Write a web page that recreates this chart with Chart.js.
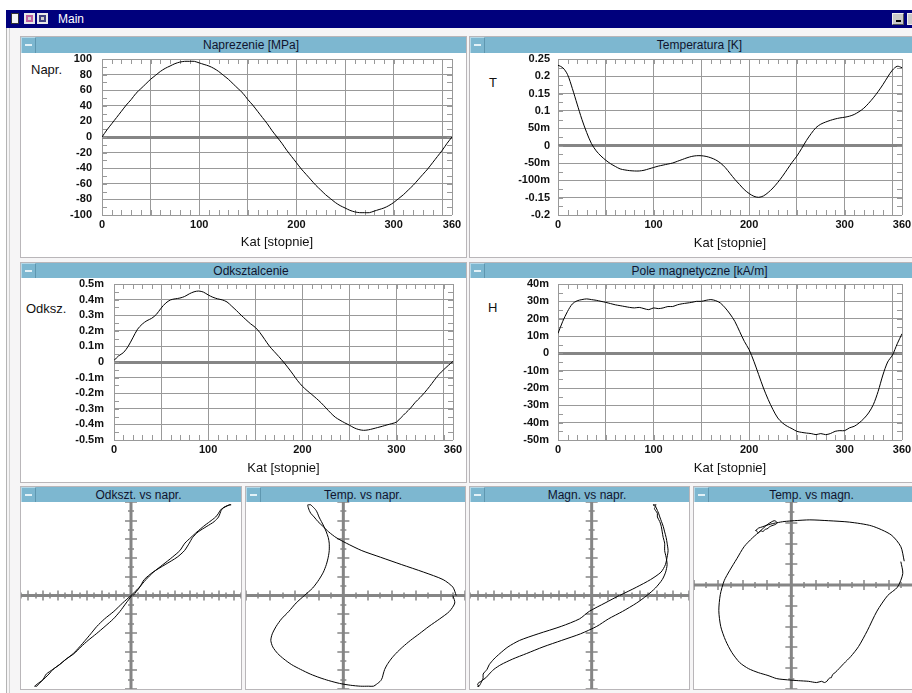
<!DOCTYPE html>
<html lang="pl">
<head>
<meta charset="utf-8">
<title>Main</title>
<script src="https://cdn.jsdelivr.net/npm/chart.js@4.4.1/dist/chart.umd.min.js"></script>
<style>
  html, body { margin: 0; padding: 0; }
  body { width: 912px; height: 693px; overflow: hidden; position: relative; background: #ffffff;
         font-family: "Liberation Sans", Arial, sans-serif; }
  .abs { position: absolute; }
  #frame { left: 6px; top: 10px; width: 920px; height: 700px; background: #f6f5f6;
           border-left: 1px solid #b4b4b4; box-sizing: border-box; }
  #frame2 { left: 9px; top: 28px; width: 1px; height: 680px; background: #cfcfcf; }
  #titlebar { left: 6px; top: 10px; width: 920px; height: 18px; background: #00007c; }
  #titlebar .name { position: absolute; left: 52px; top: 2px; color: #fff; font-size: 12px; line-height: 14px; }
  .ico { position: absolute; top: 3px; width: 11px; height: 11px; box-sizing: border-box; }
  .panel { position: absolute; background: #fff; border: 1px solid #b9b6b9; box-sizing: border-box; }
  .hdr { position: absolute; background: #7db7d0; color: #10142e; font-size: 12px; box-sizing: border-box; }
  .hdr .btn { position: absolute; left: 0; top: 0; bottom: 0; width: 15px; border-left: 1px solid #b4d8e8;
              border-top: 1px solid #b4d8e8; border-right: 1px solid #5f97b0; box-sizing: border-box; }
  .hdr .btn::after { content: ""; position: absolute; left: 3px; top: 6px; width: 7px; height: 2px; background: #e2f1f7; }
  .hdr .txt { position: absolute; left: 15px; right: 0; top: 0; bottom: 0; display: flex;
              align-items: center; justify-content: center; white-space: nowrap; }
  .ylab { position: absolute; font-size: 13px; color: #111; line-height: 15px; }
  canvas { position: absolute; }
</style>
</head>
<body>
<div id="frame" class="abs"></div>
<div id="frame2" class="abs"></div>
<div id="titlebar" class="abs">
  <div class="ico" style="left:5px;width:8px;background:#f4f4f4;border:1px solid #333;"></div>
  <div class="ico" style="left:18px;background:#d0d0d0;border:2px solid #e8e8e8;box-shadow:inset 0 0 0 2px #c060a0;"></div>
  <div class="ico" style="left:31px;background:#d0d0d0;border:2px solid #e8e8e8;box-shadow:inset 0 0 0 2px #404080;"></div>
  <div class="name">Main</div>
  <div class="ico" style="left:886px;width:12px;height:12px;top:3px;background:#c8c8c8;border:1px solid #eee;border-right-color:#555;border-bottom-color:#555;">
    <div style="position:absolute;left:3px;top:6px;width:5px;height:2px;background:#000;"></div></div>
  <div class="ico" style="left:901px;width:12px;height:12px;top:3px;background:#c8c8c8;border:1px solid #eee;"></div>
</div>

<!-- panel frames -->
<div class="panel" style="left:20px;top:36px;width:447px;height:222px;"></div>
<div class="panel" style="left:469px;top:36px;width:446px;height:222px;"></div>
<div class="panel" style="left:20px;top:262px;width:447px;height:221px;"></div>
<div class="panel" style="left:469px;top:262px;width:446px;height:221px;"></div>
<div class="panel" style="left:20px;top:486px;width:222px;height:204px;"></div>
<div class="panel" style="left:245px;top:486px;width:221px;height:204px;"></div>
<div class="panel" style="left:469px;top:486px;width:221px;height:204px;"></div>
<div class="panel" style="left:693px;top:486px;width:222px;height:204px;"></div>

<!-- panel headers -->
<div class="hdr" style="left:21px;top:37px;width:445px;height:16px;"><div class="btn"></div><div class="txt">Naprezenie [MPa]</div></div>
<div class="hdr" style="left:470px;top:37px;width:444px;height:16px;"><div class="btn"></div><div class="txt">Temperatura [K]</div></div>
<div class="hdr" style="left:21px;top:263px;width:445px;height:15px;"><div class="btn"></div><div class="txt">Odksztalcenie</div></div>
<div class="hdr" style="left:470px;top:263px;width:444px;height:15px;"><div class="btn"></div><div class="txt">Pole magnetyczne [kA/m]</div></div>
<div class="hdr" style="left:21px;top:487px;width:220px;height:15px;"><div class="btn"></div><div class="txt">Odkszt. vs napr.</div></div>
<div class="hdr" style="left:246px;top:487px;width:219px;height:15px;"><div class="btn"></div><div class="txt">Temp. vs napr.</div></div>
<div class="hdr" style="left:470px;top:487px;width:219px;height:15px;"><div class="btn"></div><div class="txt">Magn. vs napr.</div></div>
<div class="hdr" style="left:694px;top:487px;width:220px;height:15px;"><div class="btn"></div><div class="txt">Temp. vs magn.</div></div>

<!-- quantity labels beside the value axes -->
<div class="ylab" style="left:31px;top:62px;">Napr.</div>
<div class="ylab" style="left:489px;top:75px;">T</div>
<div class="ylab" style="left:26px;top:301px;">Odksz.</div>
<div class="ylab" style="left:488px;top:300px;">H</div>

<canvas id="cStress" width="445" height="203" style="left:21px;top:53px;"></canvas>
<canvas id="cTemp" width="442" height="203" style="left:470px;top:53px;"></canvas>
<canvas id="cStrain" width="445" height="203" style="left:21px;top:278px;"></canvas>
<canvas id="cField" width="442" height="203" style="left:470px;top:278px;"></canvas>
<canvas id="cStrainStress" width="220" height="187" style="left:21px;top:502px;"></canvas>
<canvas id="cTempStress" width="219" height="187" style="left:246px;top:502px;"></canvas>
<canvas id="cFieldStress" width="219" height="187" style="left:470px;top:502px;"></canvas>
<canvas id="cTempField" width="219" height="187" style="left:694px;top:502px;"></canvas>

<script>
// Rotation angle of the cycle [deg]
const angles = [0, 5, 10, 15, 20, 25, 30, 35, 40, 45, 50, 55, 60, 65, 70, 75, 80, 85, 90, 95,
  100, 105, 110, 115, 120, 125, 130, 135, 140, 145, 150, 155, 160, 165, 170, 175, 180, 185, 190, 195,
  200, 205, 210, 215, 220, 225, 230, 235, 240, 245, 250, 255, 260, 265, 270, 275, 280, 285, 290, 295,
  300, 305, 310, 315, 320, 325, 330, 335, 340, 345, 350, 355, 360];

// Stress [MPa]
const stress = [0, 9, 17, 25, 33, 41, 48, 56, 62, 68, 74, 79, 84, 88, 91, 94, 96, 97, 97, 97,
  95, 93, 91, 88, 84, 79, 74, 68, 62, 56, 48, 41, 33, 25, 17, 8, 0, -8, -17, -25,
  -33, -41, -48, -55, -62, -68, -74, -79, -84, -88, -91, -94, -96, -97, -97, -97, -95, -93, -91, -88,
  -84, -79, -74, -68, -62, -55, -48, -41, -33, -25, -17, -8, 0];

// Temperature change [K]
const temperature = [0.232, 0.225, 0.205, 0.165, 0.12, 0.076, 0.038, 0.006, -0.015, -0.03,
  -0.042, -0.052, -0.06, -0.067, -0.07, -0.072, -0.073, -0.073, -0.071, -0.067,
  -0.063, -0.059, -0.056, -0.053, -0.05, -0.045, -0.04, -0.035, -0.031, -0.029,
  -0.029, -0.031, -0.035, -0.041, -0.05, -0.063, -0.08, -0.097, -0.112, -0.127,
  -0.138, -0.146, -0.149, -0.145, -0.135, -0.122, -0.106, -0.088, -0.068, -0.048,
  -0.03, -0.008, 0.015, 0.035, 0.052, 0.062, 0.068, 0.073, 0.077, 0.08,
  0.082, 0.085, 0.09, 0.098, 0.108, 0.122, 0.138, 0.156, 0.176, 0.198,
  0.218, 0.229, 0.225];

// Strain [milli]
const strainMilli = [0.01, 0.04, 0.06, 0.1, 0.155, 0.21, 0.243, 0.265, 0.28, 0.305,
  0.345, 0.378, 0.398, 0.405, 0.41, 0.42, 0.437, 0.45, 0.455, 0.448,
  0.43, 0.415, 0.405, 0.398, 0.385, 0.358, 0.33, 0.3, 0.272, 0.245,
  0.222, 0.188, 0.145, 0.102, 0.068, 0.035, 0.0, -0.038, -0.078, -0.12,
  -0.155, -0.183, -0.208, -0.234, -0.262, -0.294, -0.326, -0.354, -0.373, -0.39,
  -0.405, -0.422, -0.433, -0.438, -0.435, -0.428, -0.42, -0.412, -0.403, -0.395,
  -0.385, -0.355, -0.325, -0.295, -0.258, -0.228, -0.195, -0.158, -0.118, -0.08,
  -0.05, -0.022, 0.004];

// Magnetic field [milli kA/m]
const fieldMilli = [11.5, 18.5, 24.2, 28.5, 30.3, 31, 31.4, 31, 30.6, 30,
  29.4, 28.7, 28, 27.5, 27, 26.5, 26.2, 26.5, 25.8, 25.2,
  26.2, 25.8, 26.2, 27, 27, 28, 28.6, 29, 29.4, 30,
  30, 30.6, 31, 30.4, 29, 26.2, 22.7, 18.5, 12.7, 6.9,
  2.1, -4.6, -12.3, -20, -26.7, -32.5, -37.3, -40.2, -42.1, -43.5,
  -45, -45.6, -46, -46.3, -46.9, -46.3, -46.9, -46.3, -45, -44.6,
  -44.6, -43, -42.1, -40.2, -37.7, -34.4, -29.6, -22, -12.5, -5,
  -1, 5.5, 11.3];

// Angle axis: grid lines and labelled values
const angleGridValues = [0, 50, 100, 150, 200, 250, 300, 350, 360];
const angleLabelValues = [0, 100, 200, 300, 360];
const angleLabels = ['0', '100', '200', '300', '360'];

// Value axes
const stressTickValues = [-100, -80, -60, -40, -20, 0, 20, 40, 60, 80, 100];
const stressTickLabels = ['-100', '-80', '-60', '-40', '-20', '0', '20', '40', '60', '80', '100'];
const tempTickValues = [-0.2, -0.15, -0.1, -0.05, 0, 0.05, 0.1, 0.15, 0.2, 0.25];
const tempTickLabels = ['-0.2', '-0.15', '-100m', '-50m', '0', '50m', '0.1', '0.15', '0.2', '0.25'];
const strainTickValues = [-0.5, -0.4, -0.3, -0.2, -0.1, 0, 0.1, 0.2, 0.3, 0.4, 0.5];
const strainTickLabels = ['-0.5m', '-0.4m', '-0.3m', '-0.2m', '-0.1m', '0', '0.1m', '0.2m', '0.3m', '0.4m', '0.5m'];
const fieldTickValues = [-50, -40, -30, -20, -10, 0, 10, 20, 30, 40];
const fieldTickLabels = ['-50m', '-40m', '-30m', '-20m', '-10m', '0', '10m', '20m', '30m', '40m'];

const FONT = '"Liberation Sans", Arial, sans-serif';
const GRID = '#999999';
const AXIS = '#858585';

// Short inward marks along the four edges of a time-series plot
function edgeTicks(xStep, yStep) {
  return {
    id: 'edgeTicks',
    beforeDatasetsDraw(chart) {
      const {ctx, chartArea: a, scales: {x, y}} = chart;
      ctx.save();
      ctx.strokeStyle = GRID;
      ctx.lineWidth = 1;
      ctx.beginPath();
      for (let n = 0; x.min + n * xStep <= x.max + 1e-9; n++) {
        const px = Math.round(x.getPixelForValue(x.min + n * xStep)) + 0.5;
        ctx.moveTo(px, a.top); ctx.lineTo(px, a.top + 5);
        ctx.moveTo(px, a.bottom); ctx.lineTo(px, a.bottom - 5);
      }
      for (let n = 0; y.min + n * yStep <= y.max + 1e-9; n++) {
        const py = Math.round(y.getPixelForValue(y.min + n * yStep)) + 0.5;
        ctx.moveTo(a.left, py); ctx.lineTo(a.left + 5, py);
        ctx.moveTo(a.right, py); ctx.lineTo(a.right - 5, py);
      }
      ctx.stroke();
      ctx.restore();
    }
  };
}

function seriesChart(id, values, yValues, yLabels, yMinor, box) {
  return new Chart(document.getElementById(id), {
    type: 'line',
    data: {
      datasets: [{
        data: angles.map((a, i) => ({x: a, y: values[i]})),
        borderColor: '#000', borderWidth: 1, pointRadius: 0, tension: 0.3, fill: false
      }]
    },
    options: {
      responsive: false, animation: false, events: [], devicePixelRatio: 1,
      layout: {autoPadding: false, padding: {left: 0, top: box.top, right: box.right, bottom: 0}},
      plugins: {legend: {display: false}, tooltip: {enabled: false}},
      scales: {
        x: {
          type: 'linear', min: 0, max: 360,
          afterBuildTicks: s => { s.ticks = angleGridValues.map(v => ({value: v})); },
          afterFit: s => { s.height = box.xh; s.paddingLeft = 0; s.paddingRight = 0; },
          ticks: {
            autoSkip: false, maxRotation: 0, padding: 3, color: '#111',
            font: {family: FONT, size: 11, weight: 'bold'},
            callback: v => { const i = angleLabelValues.indexOf(v); return i < 0 ? '' : angleLabels[i]; }
          },
          grid: {color: GRID, lineWidth: 1, drawTicks: false},
          border: {display: false},
          title: {display: true, text: 'Kat [stopnie]', color: '#111',
                  font: {family: FONT, size: 13}, padding: {top: 0, bottom: box.tp}}
        },
        y: {
          type: 'linear', min: yValues[0], max: yValues[yValues.length - 1],
          afterBuildTicks: s => { s.ticks = yValues.map(v => ({value: v})); },
          afterFit: s => { s.width = box.yw; s.paddingTop = 0; s.paddingBottom = 0; },
          ticks: {
            autoSkip: false, padding: box.gap, color: '#111',
            font: {family: FONT, size: 11, weight: 'bold'},
            callback: v => { const i = yValues.indexOf(v); return i < 0 ? '' : yLabels[i]; }
          },
          grid: {
            color: c => (c.tick && c.tick.value === 0) ? AXIS : GRID,
            lineWidth: c => (c.tick && c.tick.value === 0) ? 3 : 1,
            drawTicks: false
          },
          border: {display: false}
        }
      }
    },
    plugins: [edgeTicks(10, yMinor)]
  });
}

// Centre cross with tick marks for the phase plots
function crossAxes(xStep, yStep) {
  return {
    id: 'crossAxes',
    beforeDatasetsDraw(chart) {
      const {ctx, chartArea: a, scales: {x, y}} = chart;
      const x0 = x.getPixelForValue(0), y0 = y.getPixelForValue(0);
      ctx.save();
      ctx.strokeStyle = AXIS;
      ctx.lineWidth = 1.5;
      ctx.beginPath();
      for (let n = Math.ceil(x.min / xStep - 1e-6); n * xStep <= x.max + 1e-9; n++) {
        if (n === 0) continue;
        const px = Math.round(x.getPixelForValue(n * xStep));
        const len = n % 2 === 0 ? 5 : 3;
        ctx.moveTo(px, y0 - len); ctx.lineTo(px, y0 + len);
      }
      for (let n = Math.ceil(y.min / yStep - 1e-6); n * yStep <= y.max + 1e-9; n++) {
        if (n === 0) continue;
        const py = Math.round(y.getPixelForValue(n * yStep));
        const len = n % 2 === 0 ? 6 : 3;
        ctx.moveTo(x0 - len, py); ctx.lineTo(x0 + len, py);
      }
      ctx.stroke();
      ctx.lineWidth = 3;
      ctx.beginPath();
      ctx.moveTo(a.left, y0); ctx.lineTo(a.right, y0);
      ctx.moveTo(x0, a.top); ctx.lineTo(x0, a.bottom);
      ctx.stroke();
      ctx.restore();
    }
  };
}

function phaseChart(id, xs, ys, xRange, yRange, xStep, yStep) {
  return new Chart(document.getElementById(id), {
    type: 'scatter',
    data: {
      datasets: [{
        data: xs.map((v, i) => ({x: v, y: ys[i]})),
        showLine: true, borderColor: '#000', borderWidth: 1, pointRadius: 0, tension: 0.25, fill: false
      }]
    },
    options: {
      responsive: false, animation: false, events: [], devicePixelRatio: 1,
      layout: {autoPadding: false, padding: 0},
      plugins: {legend: {display: false}, tooltip: {enabled: false}},
      scales: {
        x: {type: 'linear', min: xRange[0], max: xRange[1], display: false},
        y: {type: 'linear', min: yRange[0], max: yRange[1], display: false}
      }
    },
    plugins: [crossAxes(xStep, yStep)]
  });
}

seriesChart('cStress', stress, stressTickValues, stressTickLabels, 10,
  {top: 6, right: 14, yw: 81, xh: 41, gap: 10, tp: 6});
seriesChart('cTemp', temperature, tempTickValues, tempTickLabels, 0.025,
  {top: 6, right: 10, yw: 88, xh: 41, gap: 8, tp: 5});
seriesChart('cStrain', strainMilli, strainTickValues, strainTickLabels, 0.05,
  {top: 6, right: 13, yw: 93, xh: 41, gap: 10, tp: 5});
seriesChart('cField', fieldMilli, fieldTickValues, fieldTickLabels, 5,
  {top: 6, right: 10, yw: 88, xh: 41, gap: 9, tp: 5});

phaseChart('cStrainStress', strainMilli, stress, [-0.5, 0.5], [-100, 100], 0.1 / 3, 10);
phaseChart('cTempStress', temperature, stress, [-0.2, 0.25], [-100, 100], 0.025, 10);
phaseChart('cFieldStress', fieldMilli, stress, [-50, 40], [-100, 100], 10 / 3, 10);
phaseChart('cTempField', temperature, fieldMilli, [-0.2, 0.25], [-50, 40], 0.025, 5);
</script>
</body>
</html>
